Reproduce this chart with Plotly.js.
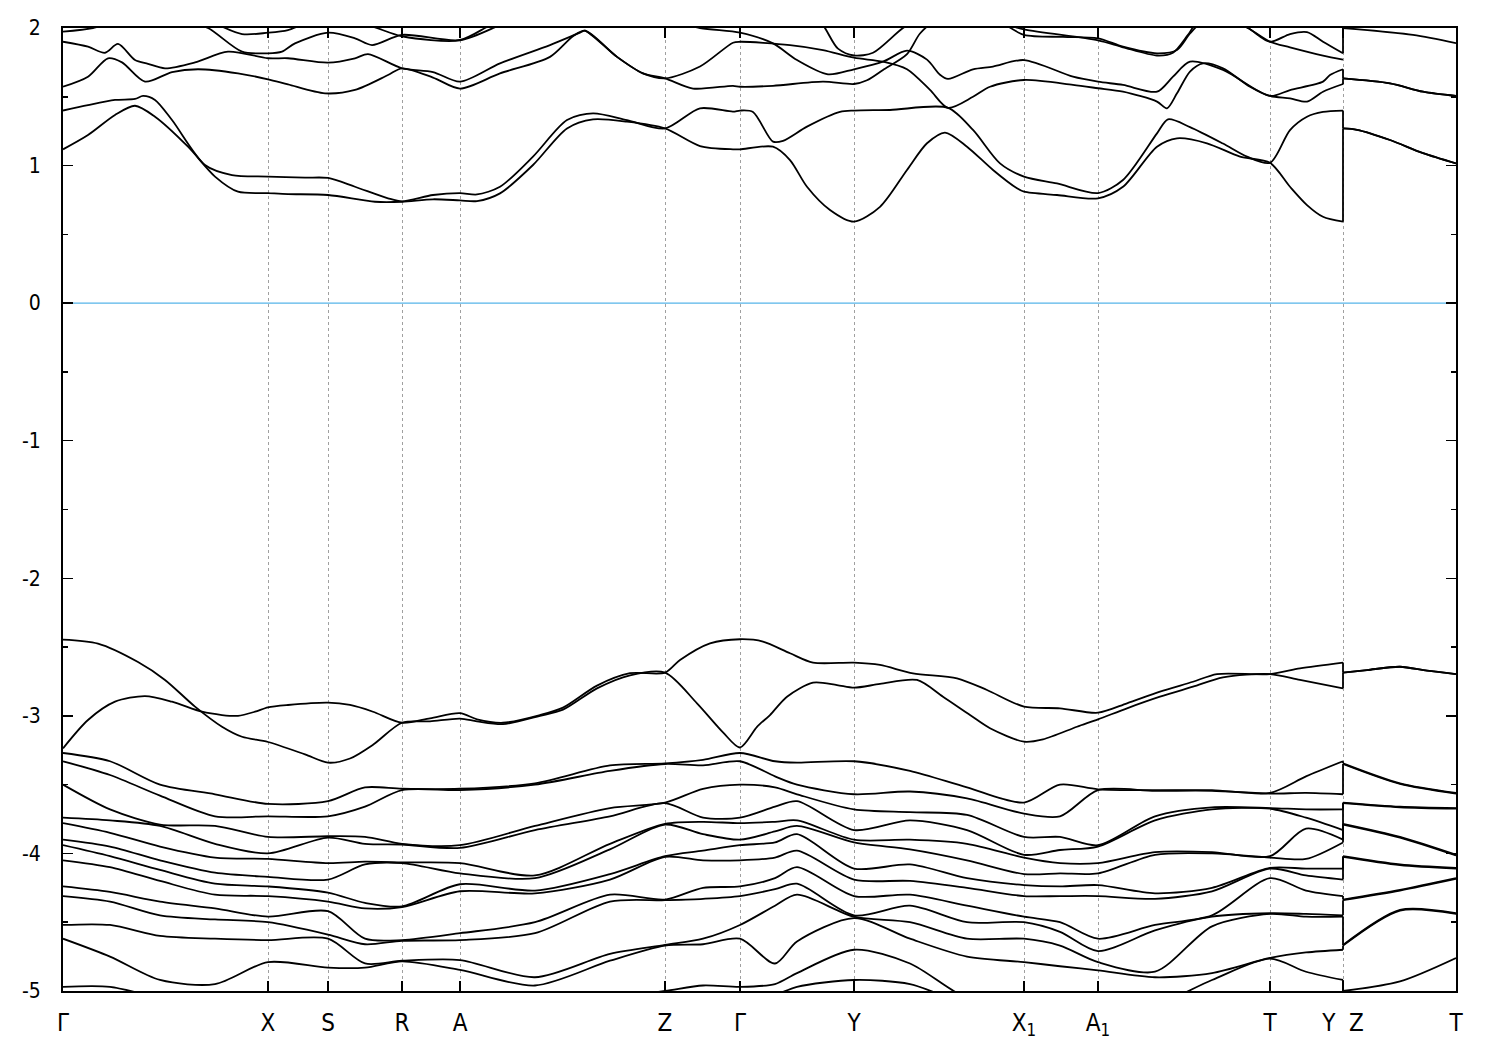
<!DOCTYPE html>
<html><head><meta charset="utf-8">
<script src="https://cdn.plot.ly/plotly-3.0.1.min.js"></script>
<style>body{margin:0;background:#fff}</style>
</head><body>
<div id="chart" style="width:1500px;height:1050px"></div>
<script>
// High-symmetry points along the k-path (path distance)
const kTicks = [0, 2.05, 2.65, 3.39, 3.97, 6.02, 6.77, 7.91, 9.61, 10.35, 12.07, 12.80, 13.93];
const kTickText = ['Γ','X','S','R','A','Z','Γ','Y','X<sub>1</sub>','A<sub>1</sub>','T','Y\u00a0\u00a0Z','T'];
const eTicks = [-5, -4, -3, -2, -1, 0, 1, 2];
const eTickText = ['-5', '-4', '-3', '-2', '-1', '0', '1', '2'];
const eMinor = [-4.5, -3.5, -2.5, -1.5, -0.5, 0.5, 1.5];
const fermiLevel = 0;

// Conduction bands: [k, E] pairs (k repeats at the Y|Z break)
const C1 = [[0,1.118],[0.25,1.222],[0.52,1.368],[0.72,1.435],[0.92,1.355],[1.25,1.137],[1.52,0.92],[1.75,0.81],[2.05,0.80],[2.25,0.793],[2.65,0.786],[3.12,0.737],[3.39,0.737],[3.70,0.755],[3.97,0.747],[4.14,0.742],[4.37,0.798],[4.70,1.004],[5.04,1.27],[5.30,1.336],[5.64,1.319],[6.02,1.27],[6.37,1.142],[6.70,1.118],[6.77,1.118],[7.10,1.137],[7.27,1.04],[7.44,0.846],[7.67,0.677],[7.91,0.592],[8.17,0.70],[8.44,0.968],[8.64,1.162],[8.82,1.24],[9.04,1.137],[9.30,0.968],[9.54,0.835],[9.61,0.81],[9.94,0.786],[10.35,0.762],[10.60,0.846],[10.94,1.137],[11.14,1.198],[11.44,1.162],[11.77,1.065],[12.07,1.02],[12.27,0.846],[12.44,0.713],[12.60,0.628],[12.80,0.592],[12.80,1.27],[12.94,1.26],[13.27,1.186],[13.60,1.09],[13.93,1.016]];
const C2 = [[0,1.40],[0.25,1.44],[0.52,1.477],[0.72,1.484],[0.80,1.506],[0.92,1.477],[1.09,1.331],[1.42,1.004],[1.69,0.931],[2.05,0.92],[2.42,0.912],[2.65,0.91],[2.92,0.846],[3.25,0.762],[3.39,0.74],[3.70,0.786],[3.97,0.80],[4.14,0.79],[4.37,0.846],[4.70,1.065],[5.04,1.331],[5.30,1.38],[5.64,1.331],[6.02,1.27],[6.37,1.416],[6.70,1.392],[6.77,1.40],[6.90,1.39],[7.10,1.174],[7.20,1.18],[7.44,1.283],[7.77,1.39],[7.91,1.40],[8.27,1.404],[8.85,1.42],[9.10,1.259],[9.37,1.016],[9.61,0.92],[9.94,0.87],[10.35,0.80],[10.60,0.895],[10.94,1.234],[11.05,1.336],[11.27,1.28],[11.60,1.16],[11.84,1.065],[12.07,1.02],[12.27,1.258],[12.44,1.355],[12.60,1.39],[12.80,1.40],[12.80,1.27],[12.94,1.26],[13.27,1.186],[13.60,1.09],[13.93,1.016]];
const C3 = [[0,1.573],[0.25,1.646],[0.45,1.78],[0.59,1.75],[0.82,1.61],[1.09,1.68],[1.35,1.70],[1.75,1.67],[2.05,1.627],[2.25,1.59],[2.62,1.525],[2.92,1.55],[3.25,1.658],[3.39,1.707],[3.70,1.64],[3.97,1.56],[4.37,1.67],[4.87,1.79],[5.10,1.94],[5.22,1.98],[5.54,1.79],[5.80,1.67],[6.02,1.634],[6.30,1.56],[6.70,1.58],[6.77,1.573],[7.10,1.58],[7.60,1.61],[7.91,1.593],[8.04,1.62],[8.20,1.695],[8.44,1.81],[8.57,1.96],[8.72,2.05],[9.0,2.1],[9.35,2.05],[9.61,1.95],[10.0,1.935],[10.35,1.925],[10.60,1.864],[10.94,1.816],[11.14,1.84],[11.27,1.96],[11.40,2.05],[11.6,2.08],[11.85,2.0],[12.07,1.90],[12.27,1.956],[12.44,1.97],[12.60,1.90],[12.80,1.816],[12.80,2.0],[13.5,1.95],[13.93,1.89]];
const C4 = [[0,1.90],[0.25,1.864],[0.42,1.82],[0.55,1.884],[0.72,1.767],[0.85,1.74],[1.02,1.707],[1.32,1.75],[1.65,1.828],[2.05,1.78],[2.25,1.78],[2.65,1.748],[2.92,1.78],[3.05,1.81],[3.39,1.707],[3.70,1.68],[3.97,1.61],[4.37,1.743],[4.87,1.876],[5.17,1.966],[5.22,1.98],[5.54,1.79],[5.80,1.67],[6.02,1.634],[6.37,1.72],[6.70,1.893],[6.77,1.90],[7.27,1.876],[7.60,1.84],[7.91,1.784],[8.20,1.755],[8.44,1.70],[8.67,1.55],[8.85,1.42],[9.10,1.50],[9.27,1.573],[9.61,1.622],[10.10,1.586],[10.35,1.562],[10.60,1.537],[10.94,1.465],[11.04,1.416],[11.14,1.525],[11.27,1.683],[11.40,1.743],[11.60,1.707],[11.87,1.573],[12.07,1.506],[12.27,1.489],[12.44,1.465],[12.60,1.537],[12.80,1.593],[12.80,1.634],[13.27,1.598],[13.60,1.537],[13.93,1.506]];
const C5 = [[0,1.973],[0.3,2.0],[0.6,2.06],[1.2,2.06],[1.45,2.0],[1.79,1.828],[2.05,1.816],[2.19,1.828],[2.32,1.888],[2.65,1.966],[2.92,1.925],[3.09,1.876],[3.39,1.95],[3.97,1.913],[4.30,2.03],[4.6,2.1],[5.8,2.1],[6.37,2.0],[6.77,1.966],[7.10,1.888],[7.34,1.767],[7.65,1.663],[7.91,1.70],[8.20,1.755],[8.44,1.835],[8.64,1.77],[8.77,1.66],[8.85,1.63],[9.10,1.70],[9.30,1.72],[9.61,1.767],[10.10,1.646],[10.35,1.61],[10.60,1.586],[10.94,1.537],[11.10,1.646],[11.27,1.755],[11.60,1.695],[12.07,1.506],[12.27,1.549],[12.60,1.61],[12.67,1.658],[12.80,1.70],[12.80,1.634],[13.27,1.598],[13.60,1.537],[13.93,1.506]];
const C6 = [[1.45,2.06],[1.79,1.956],[2.05,1.966],[2.25,1.985],[2.5,2.05],[3.0,2.03],[3.39,1.94],[3.97,1.91],[4.4,2.03],[4.6,2.08],[6.5,2.1],[7.5,2.1],[7.75,1.85],[7.91,1.80],[8.1,1.82],[8.4,2.0],[8.6,2.08],[9.3,2.05],[9.61,1.99],[10.35,1.91],[10.60,1.86],[10.94,1.80],[11.10,1.82],[11.25,1.95],[11.35,2.05],[11.6,2.1],[11.85,2.0],[12.07,1.90],[12.27,1.86],[12.60,1.80],[12.80,1.77]];

// Upper valence bands: [k, E] pairs
const VA = [[0,-2.446],[0.35,-2.475],[0.75,-2.609],[1.02,-2.739],[1.32,-2.933],[1.59,-3.079],[1.79,-3.152],[2.05,-3.19],[2.42,-3.28],[2.65,-3.34],[2.87,-3.31],[3.10,-3.21],[3.39,-3.05],[3.67,-3.04],[3.97,-3.02],[4.14,-3.04],[4.40,-3.06],[4.77,-3.00],[5.00,-2.955],[5.34,-2.80],[5.67,-2.705],[6.02,-2.686],[6.34,-2.909],[6.60,-3.12],[6.77,-3.23],[6.94,-3.08],[7.07,-2.994],[7.24,-2.861],[7.50,-2.759],[7.74,-2.776],[7.91,-2.795],[8.17,-2.768],[8.54,-2.739],[8.80,-2.861],[9.07,-2.994],[9.27,-3.09],[9.61,-3.188],[9.80,-3.171],[10.14,-3.079],[10.35,-3.025],[10.64,-2.945],[10.97,-2.861],[11.30,-2.788],[11.60,-2.72],[12.07,-2.696],[12.37,-2.739],[12.80,-2.80],[12.80,-2.686],[13.04,-2.667],[13.37,-2.643],[13.64,-2.672],[13.93,-2.696]];
const VB = [[0,-3.236],[0.25,-3.03],[0.52,-2.897],[0.82,-2.856],[1.09,-2.897],[1.39,-2.97],[1.59,-2.994],[1.75,-3.0],[1.92,-2.97],[2.05,-2.938],[2.25,-2.921],[2.65,-2.904],[2.87,-2.921],[3.10,-2.97],[3.39,-3.05],[3.67,-3.018],[3.97,-2.98],[4.14,-3.025],[4.40,-3.05],[4.77,-2.994],[5.00,-2.94],[5.34,-2.78],[5.67,-2.69],[6.02,-2.686],[6.17,-2.594],[6.47,-2.473],[6.77,-2.443],[7.00,-2.46],[7.27,-2.545],[7.50,-2.613],[7.91,-2.613],[8.17,-2.63],[8.50,-2.691],[8.94,-2.727],[9.24,-2.812],[9.61,-2.933],[9.97,-2.945],[10.35,-2.977],[10.64,-2.909],[10.97,-2.824],[11.30,-2.752],[11.54,-2.696],[12.07,-2.696],[12.37,-2.655],[12.80,-2.613],[12.80,-2.686],[13.04,-2.667],[13.37,-2.643],[13.64,-2.672],[13.93,-2.696]];

// Deeper valence bands on a shared k grid (energy-ordered)
const kGrid = [0,0.47,0.97,1.52,2.05,2.65,3.02,3.39,3.97,4.72,5.47,6.02,6.40,6.77,7.12,7.34,7.91,8.47,9.04,9.61,9.97,10.35,10.92,11.49,12.07,12.43,12.80,12.80,13.37,13.93];
const D1 = [-3.27,-3.33,-3.50,-3.57,-3.64,-3.62,-3.52,-3.53,-3.53,-3.49,-3.36,-3.345,-3.32,-3.27,-3.33,-3.34,-3.33,-3.40,-3.52,-3.63,-3.50,-3.534,-3.54,-3.54,-3.56,-3.44,-3.33,-3.345,-3.49,-3.56];
const D2 = [-3.33,-3.43,-3.58,-3.73,-3.73,-3.73,-3.66,-3.54,-3.54,-3.50,-3.40,-3.35,-3.36,-3.33,-3.44,-3.50,-3.57,-3.55,-3.60,-3.71,-3.73,-3.54,-3.545,-3.545,-3.565,-3.56,-3.57,-3.35,-3.495,-3.565];
const D3 = [-3.50,-3.68,-3.79,-3.80,-3.88,-3.875,-3.88,-3.93,-3.94,-3.80,-3.67,-3.63,-3.53,-3.50,-3.52,-3.57,-3.68,-3.70,-3.72,-3.88,-3.88,-3.94,-3.73,-3.665,-3.67,-3.68,-3.68,-3.63,-3.66,-3.67];
const D4 = [-3.74,-3.76,-3.80,-3.93,-4.00,-3.885,-3.93,-3.935,-3.96,-3.83,-3.73,-3.635,-3.74,-3.74,-3.66,-3.62,-3.83,-3.76,-3.83,-4.01,-3.975,-3.95,-3.76,-3.68,-3.675,-3.74,-3.83,-3.635,-3.665,-3.675];
const D5 = [-3.78,-3.85,-3.95,-4.03,-4.04,-4.07,-4.06,-4.065,-4.07,-4.16,-3.93,-3.785,-3.77,-3.78,-3.77,-3.76,-3.90,-3.90,-3.93,-4.03,-4.07,-4.07,-3.99,-3.99,-4.02,-3.82,-3.90,-3.785,-3.88,-4.01];
const D6 = [-3.90,-3.95,-4.05,-4.14,-4.17,-4.19,-4.08,-4.07,-4.145,-4.18,-3.97,-3.79,-3.86,-3.90,-3.84,-3.80,-3.92,-3.97,-4.05,-4.15,-4.145,-4.145,-4.01,-4.00,-4.03,-4.04,-3.92,-3.79,-3.885,-4.015];
const D7 = [-3.94,-4.02,-4.12,-4.22,-4.24,-4.285,-4.36,-4.385,-4.224,-4.27,-4.15,-4.02,-3.98,-3.94,-3.92,-3.86,-4.11,-4.08,-4.18,-4.23,-4.24,-4.23,-4.29,-4.25,-4.105,-4.11,-4.11,-4.02,-4.08,-4.105];
const D8 = [-4.05,-4.10,-4.20,-4.30,-4.31,-4.35,-4.40,-4.39,-4.275,-4.29,-4.19,-4.025,-4.05,-4.05,-4.03,-3.98,-4.19,-4.20,-4.25,-4.31,-4.31,-4.31,-4.33,-4.275,-4.11,-4.16,-4.19,-4.025,-4.085,-4.11];
const D9 = [-4.24,-4.28,-4.35,-4.40,-4.46,-4.42,-4.62,-4.63,-4.58,-4.50,-4.30,-4.335,-4.25,-4.24,-4.18,-4.10,-4.31,-4.30,-4.38,-4.46,-4.50,-4.62,-4.52,-4.45,-4.18,-4.27,-4.31,-4.335,-4.265,-4.18];
const D10 = [-4.31,-4.35,-4.45,-4.48,-4.50,-4.59,-4.66,-4.635,-4.63,-4.58,-4.35,-4.34,-4.33,-4.31,-4.26,-4.22,-4.45,-4.38,-4.50,-4.50,-4.57,-4.71,-4.56,-4.46,-4.435,-4.44,-4.45,-4.34,-4.27,-4.185];
const D11 = [-4.52,-4.52,-4.60,-4.62,-4.63,-4.62,-4.80,-4.78,-4.775,-4.90,-4.73,-4.665,-4.62,-4.52,-4.38,-4.30,-4.46,-4.50,-4.62,-4.62,-4.67,-4.79,-4.86,-4.53,-4.44,-4.46,-4.46,-4.665,-4.41,-4.435];
const D12 = [-4.62,-4.75,-4.92,-4.95,-4.79,-4.83,-4.83,-4.785,-4.847,-4.96,-4.78,-4.67,-4.66,-4.62,-4.80,-4.64,-4.47,-4.62,-4.75,-4.79,-4.82,-4.85,-4.90,-4.87,-4.76,-4.72,-4.70,-4.67,-4.415,-4.44];
const D13 = [-4.97,-4.97,-5.05,-5.10,-5.10,-5.10,-5.10,-5.10,-5.10,-5.10,-5.05,-5.00,-4.96,-4.97,-4.95,-4.87,-4.70,-4.80,-5.05,-5.10,-5.10,-5.10,-5.10,-4.92,-4.765,-4.86,-4.92,-5.00,-4.93,-4.76];
const D14 = [-5.20,-5.20,-5.20,-5.20,-5.20,-5.20,-5.20,-5.20,-5.20,-5.20,-5.20,-5.15,-5.10,-5.10,-5.03,-4.97,-4.92,-4.95,-5.10,-5.20,-5.20,-5.20,-5.20,-5.20,-5.20,-5.20,-5.20,-5.15,-5.15,-5.10];

const pairBands = [C1, C2, C3, C4, C5, C6, VA, VB];
const gridBands = [D1, D2, D3, D4, D5, D6, D7, D8, D9, D10, D11, D12, D13, D14];

const traces = [];
const LW = 1.8;
function seg(ks, es, shape) {
  traces.push({x: ks, y: es, mode: 'lines', type: 'scatter', hoverinfo: 'skip', showlegend: false,
    line: {color: '#000', width: LW, shape: shape, smoothing: 0.8}});
}
function addBand(ks, es) {
  let j = -1;
  for (let i = 1; i < ks.length; i++) if (ks[i] === ks[i - 1]) { j = i; break; }
  if (j < 0) { seg(ks, es, 'spline'); return; }
  seg(ks.slice(0, j), es.slice(0, j), 'spline');
  seg(ks.slice(j - 1, j + 1), es.slice(j - 1, j + 1), 'linear');
  seg(ks.slice(j), es.slice(j), 'spline');
}
pairBands.forEach(b => addBand(b.map(p => p[0]), b.map(p => p[1])));
gridBands.forEach(b => addBand(kGrid, b));

traces.push({x: [kTicks[0], kTicks[kTicks.length - 1]], y: [fermiLevel, fermiLevel], mode: 'lines',
  type: 'scatter', hoverinfo: 'skip', showlegend: false, line: {color: 'rgb(86,180,233)', width: 1.3}});

const FONT = 'DejaVu Sans Condensed, Liberation Sans Narrow, Arial Narrow, Liberation Sans, sans-serif';
const layout = {
  width: 1500, height: 1050,
  margin: {l: 63, r: 44, t: 28, b: 59},
  paper_bgcolor: '#fff', plot_bgcolor: '#fff',
  showlegend: false,
  font: {family: FONT, size: 21, color: '#000'},
  xaxis: {
    range: [kTicks[0], kTicks[kTicks.length - 1]],
    tickmode: 'array', tickvals: kTicks, ticktext: kTickText,
    ticks: 'inside', ticklen: 10, tickwidth: 1.5, tickcolor: '#000',
    showline: true, linecolor: '#000', linewidth: 2, mirror: 'ticks',
    showgrid: true, gridcolor: '#a0a0a0', gridwidth: 1, griddash: 'dot',
    zeroline: false, ticklabelstandoff: 9,
    tickfont: {family: FONT, size: 24, color: '#000'}
  },
  yaxis: {
    range: [-5, 2],
    tickmode: 'array', tickvals: eTicks, ticktext: eTickText,
    ticks: 'inside', ticklen: 10, tickwidth: 1.5, tickcolor: '#000',
    minor: {tickmode: 'array', tickvals: eMinor, ticks: 'inside', ticklen: 5, tickcolor: '#000', showgrid: false},
    showline: true, linecolor: '#000', linewidth: 2, mirror: 'ticks',
    showgrid: false, zeroline: false, ticklabelstandoff: 16,
    tickfont: {family: FONT, size: 21, color: '#000'}
  }
};
Plotly.newPlot('chart', traces, layout, {staticPlot: true, displayModeBar: false});
</script>
</body></html>
